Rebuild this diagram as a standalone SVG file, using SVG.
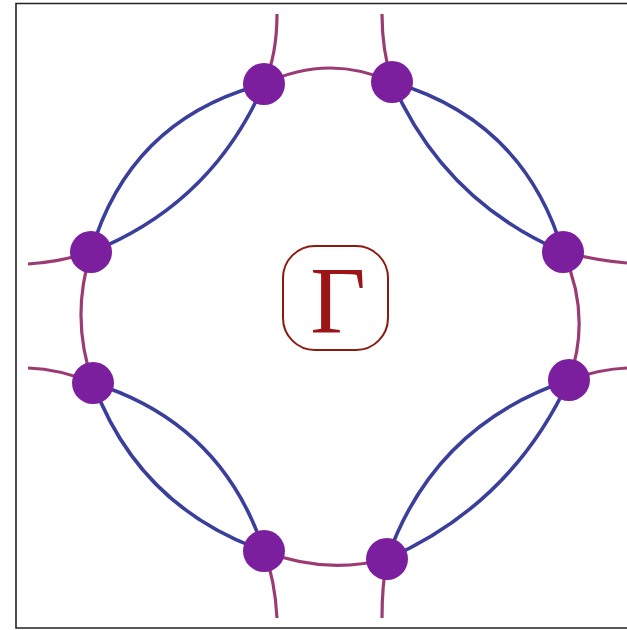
<svg xmlns="http://www.w3.org/2000/svg" width="627" height="630" viewBox="0 0 627 630">
<style>
.frame{fill:none;stroke:#222;stroke-width:1.6}
.ext{fill:none;stroke:#9c3b73;stroke-width:3.2;stroke-linecap:butt}
.int{fill:none;stroke:#3a3f9c;stroke-width:3.6}
.node{fill:#7b1f9e}
.gbox{fill:#fff;stroke:#8b1a10;stroke-width:2}
.glabel{font-family:"Liberation Serif","DejaVu Serif",serif;font-size:96px;fill:#9b1418;text-anchor:middle}
</style>
<rect width="627" height="630" fill="#fff"/>
<path class="frame" d="M640,3.5 H16 V628 H640"/>
<g id="connectors">
<path class="ext" d="M277,14 Q277,55 264,84"/>
<path class="ext" d="M382,14 Q382,50 392,82"/>
<path class="ext" d="M264,84 Q328,53 392,82"/>
<path class="ext" d="M28,264 Q60,262 91,252"/>
<path class="ext" d="M91,252 Q70,318 93,383"/>
<path class="ext" d="M28,368 Q60,369 93,383"/>
<path class="ext" d="M264,551 Q275,580 277,618"/>
<path class="ext" d="M264,551 Q325,575 387,559"/>
<path class="ext" d="M387,559 Q382,585 382,618"/>
<path class="ext" d="M569,380 Q600,369 627,368"/>
<path class="ext" d="M563,252 Q592,316 569,380"/>
<path class="ext" d="M563,252 Q600,261 627,263"/>
<path class="int" d="M91,252 Q130,119 264,84"/>
<path class="int" d="M91,252 Q212,204 264,84"/>
<path class="int" d="M392,82 Q524,120 563,252"/>
<path class="int" d="M392,82 Q444,201 563,252"/>
<path class="int" d="M93,383 Q139,507 264,551"/>
<path class="int" d="M93,383 Q222,423 264,551"/>
<path class="int" d="M387,559 Q512,504 569,380"/>
<path class="int" d="M387,559 Q434,425 569,380"/>
</g>
<g id="n1"><circle class="node" cx="264" cy="84" r="21"/></g>
<g id="n2"><circle class="node" cx="392" cy="82" r="21"/></g>
<g id="n3"><circle class="node" cx="563" cy="252" r="21"/></g>
<g id="n4"><circle class="node" cx="569" cy="380" r="21"/></g>
<g id="n5"><circle class="node" cx="387" cy="559" r="21"/></g>
<g id="n6"><circle class="node" cx="264" cy="551" r="21"/></g>
<g id="n7"><circle class="node" cx="93" cy="383" r="21"/></g>
<g id="n8"><circle class="node" cx="91" cy="252" r="21"/></g>
<g id="gamma">
<rect class="gbox" x="283" y="246" width="105" height="104" rx="32"/>
<text class="glabel" x="338" y="333">Γ</text>
</g>
</svg>
